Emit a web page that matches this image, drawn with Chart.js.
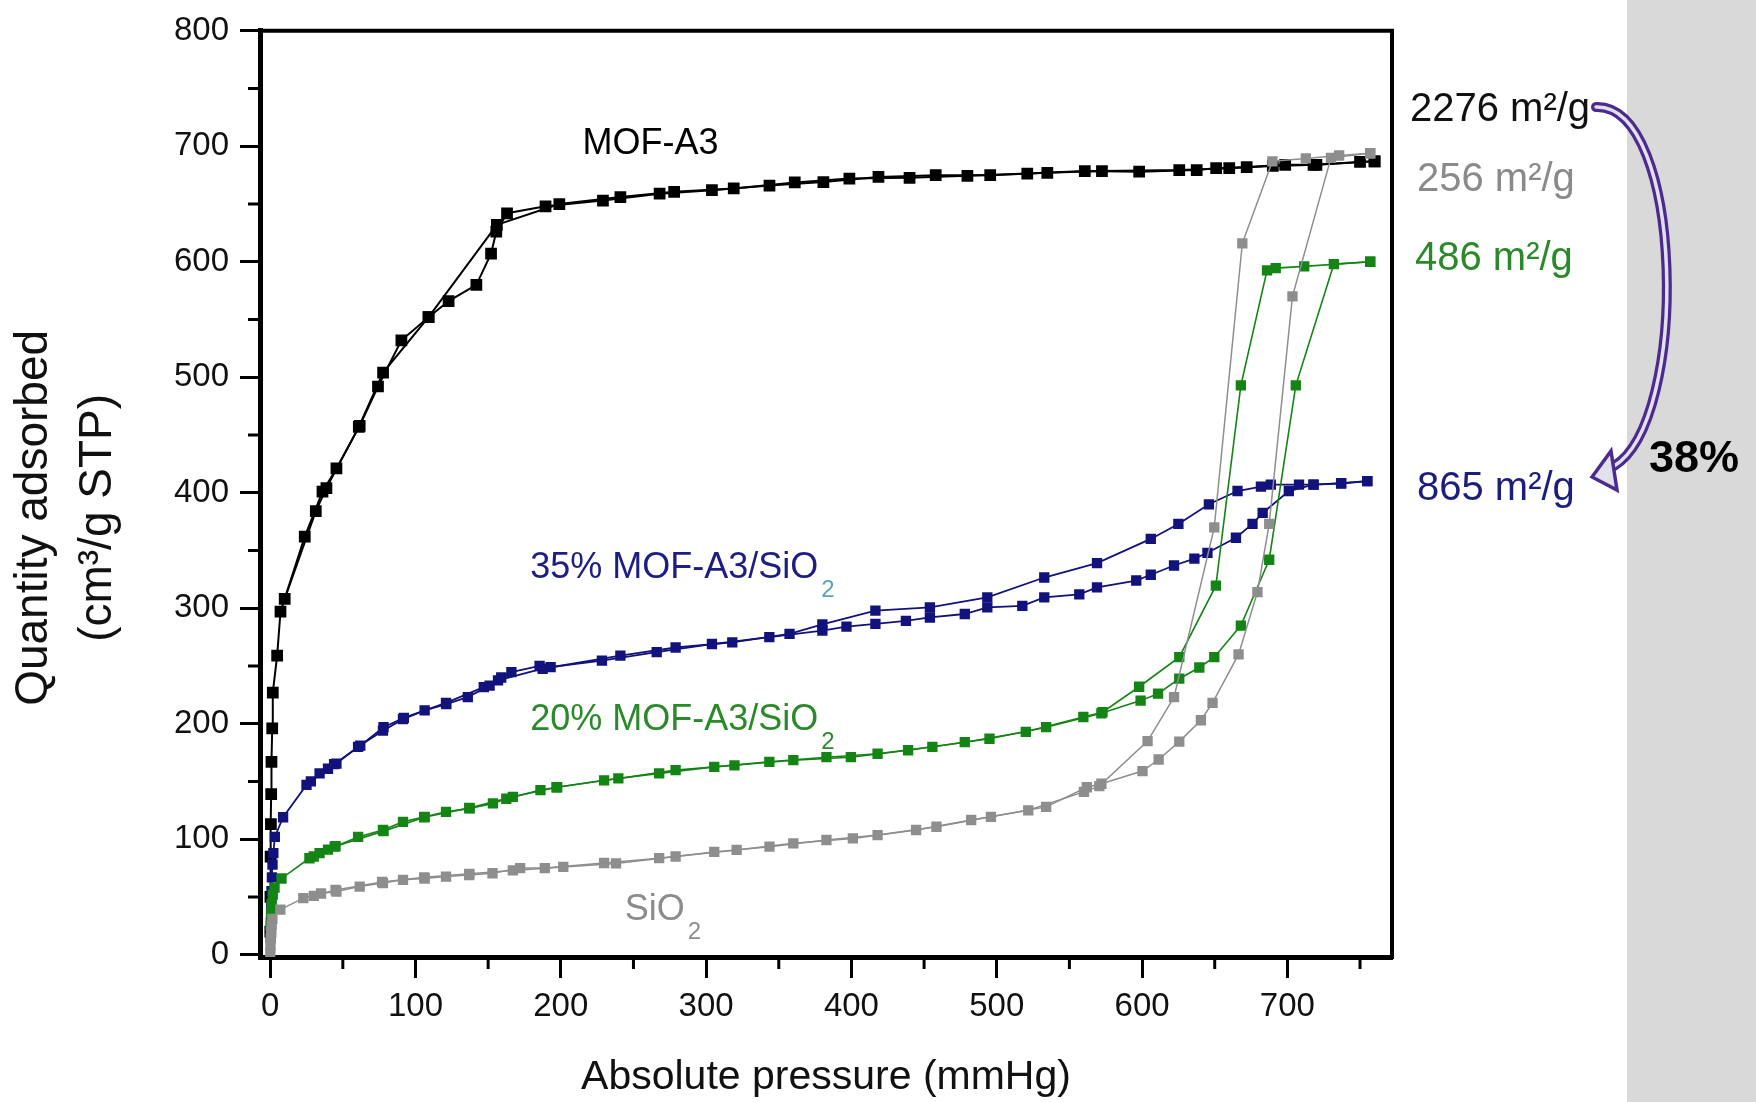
<!DOCTYPE html>
<html lang="en">
<head>
<meta charset="UTF-8">
<title>N2 isotherms - MOF-A3 / SiO2</title>
<script src="https://cdn.jsdelivr.net/npm/chart.js"></script>
<style>
  html, body { margin: 0; padding: 0; background: #fff; }
  #wrap { width: 1756px; height: 1102px; }
</style>
</head>
<body>
<div id="wrap"><canvas id="iso" width="1756" height="1102"></canvas></div>
<script>
// absolute pressure (mmHg) and quantity adsorbed (cm3/g STP)
// MOF-A3
const mofAdsP = [0.1, 0.2, 0.3, 0.5, 0.7, 0.9, 1.4, 1.8, 4.8, 7.1, 23.8, 36, 45.6, 61.6, 74.2, 90.3, 109, 122.8, 141.9, 152, 155.6, 163, 189.5, 229, 268, 304, 343.6, 380.7, 418.6, 458, 495.5, 534.8, 572.4, 625.6, 660, 690, 720, 760];
const mofAdsQ = [20, 50, 85, 113, 139, 167, 196, 227, 259, 297, 362, 401, 421, 458, 492, 532, 552, 566, 580, 607, 626, 642, 648, 653, 659, 662, 666, 669, 673.5, 675, 675, 677, 678.5, 679.4, 681, 683, 684, 687];
const mofDesP = [760, 750, 718, 698.5, 672, 651, 637.6, 598, 560.6, 521, 479.8, 440, 398.6, 361, 319, 278, 241, 199, 156, 109, 77.7, 61, 38.7, 31.4, 10];
const mofDesQ = [687, 686.5, 684, 684, 682, 681, 679.4, 678, 678.5, 676.4, 674.4, 672.7, 672, 668.7, 663.5, 660.6, 656, 650, 632, 552, 504, 457, 404, 384, 308];

// 35% MOF-A3/SiO2
const m35AdsP = [0.3, 0.5, 0.7, 0.9, 1.2, 1.6, 2.2, 3.2, 8.9, 25, 34, 39.8, 45.6, 60.5, 77.6, 91.4, 106.3, 121.2, 136, 151, 159, 166, 185.4, 193, 228.3, 266, 304, 343.5, 380, 396.6, 416.5, 437.5, 454, 478, 493.5, 517.6, 532.7, 556.8, 569, 596, 606, 622, 636, 645, 664.6, 676, 683, 701, 718, 737, 755];
const m35AdsQ = [15, 28, 42, 55, 67, 78, 88, 102, 119, 147, 157, 161, 165.5, 180, 194, 204, 211.6, 217, 223, 233, 240, 244.6, 250, 249, 254.7, 262, 269, 275, 280.6, 284, 286.5, 289, 292, 295, 300.7, 302, 309.4, 312, 318, 324, 329, 337, 343, 348, 361, 373, 382.5, 401.5, 407, 408, 410];
const m35DesP = [755, 737, 718, 708, 688.6, 681.8, 665.7, 646, 625, 606, 569, 532.7, 493.5, 454, 416.5, 380, 357.4, 318, 279, 241, 187.5, 156.8, 147, 121, 92, 78, 62, 44, 28];
const m35DesQ = [410, 408.4, 407, 407, 407, 405.3, 401.5, 390, 373, 360, 339, 326.6, 309.4, 300.7, 298, 286, 277.8, 270.5, 266, 259, 247.6, 237.5, 231.7, 218, 205, 197, 181, 165, 150];

// 20% MOF-A3/SiO2
const m20AdsP = [0.3, 0.6, 1, 1.8, 3, 7.8, 27, 34, 39.8, 44.4, 60.5, 77.6, 91.4, 106.3, 121, 137.3, 153.3, 162.5, 186, 197.5, 229.8, 267.7, 305.6, 343.5, 382.8, 418, 455.7, 495, 534, 572, 599, 611, 625.6, 639.4, 649.7, 668, 687.5, 705.8, 732, 757];
const m20AdsQ = [25, 35, 44, 52, 58, 66, 83.5, 88, 91, 93.5, 102, 108, 115, 119.4, 123.7, 126.7, 131, 135, 142.5, 145, 151, 157, 162.6, 167, 171, 174, 180, 187, 197, 209, 220, 226, 239, 248.7, 257.6, 285, 342, 493, 598, 600];
const m20DesP = [757, 711.6, 692, 686, 668, 650.8, 625.6, 598, 572.8, 559.6, 520, 478, 439, 399.6, 360, 319.5, 279, 239.6, 197, 167, 137, 106, 78, 45, 30];
const m20DesQ = [600, 596, 594.5, 592.6, 493, 319.5, 257.6, 232, 210, 205.8, 193, 184, 177, 171, 168.4, 164, 159.8, 152.6, 145, 136.7, 127, 119, 107, 94, 85];

// SiO2
const sioAdsP = [0.1, 0.2, 0.4, 0.6, 1, 1.5, 7, 22.8, 35, 45.6, 61.6, 77.6, 91.4, 106.3, 121, 137, 153, 172, 189, 229.8, 267.7, 305.6, 343.6, 382.8, 418, 458.5, 496, 534, 562, 572, 600.3, 611.4, 625.6, 640.5, 648.5, 666.4, 679.4, 687.5, 703.5, 730, 757];
const sioAdsQ = [2, 8, 14, 20, 26, 31, 39, 49, 53, 54.7, 59, 62, 64.8, 66, 67.6, 69, 70.5, 75, 75, 79.4, 83.6, 89, 93.5, 99.3, 103.6, 110.8, 119.4, 128, 145, 148, 159, 169, 184.5, 203, 218, 260, 314, 373, 570, 690, 694];
const sioDesP = [757, 735.6, 712.7, 689.7, 669, 649.7, 622, 603.8, 570.6, 560, 521.7, 482.4, 444.5, 401, 360, 321, 279, 238, 201.7, 167, 137, 106, 77, 45, 30];
const sioDesQ = [694, 692, 689.5, 687, 616, 370, 223, 185, 146, 141, 125, 116.6, 108, 100.7, 96.4, 90.7, 85, 79, 76, 73, 70, 67, 63, 56, 51];

const xTickVals = [0, 100, 200, 300, 400, 500, 600, 700];
const yTickVals = [0, 100, 200, 300, 400, 500, 600, 700, 800];
const xMinorVals = [50, 150, 250, 350, 450, 550, 650, 750];
const yMinorVals = [50, 150, 250, 350, 450, 550, 650, 750];

const xTitle = 'Absolute pressure (mmHg)';
const yTitle = ['Quantity adsorbed', '(cm³/g STP)'];
const curveNames = ['MOF-A3', '35% MOF-A3/SiO', '20% MOF-A3/SiO', 'SiO'];
const areaNames = ['2276 m²/g', '256 m²/g', '486 m²/g', '865 m²/g'];
const dropText = '38%';

const FONT = "'Liberation Sans', Arial, Helvetica, sans-serif";
const BLACK = '#000000', NAVY = '#12127c', GREEN = '#148414', GREY = '#8e8e8e';

const pairs = (p, q) => p.map((v, i) => ({ x: v, y: q[i] }));

function series(label, p, q, color, lw, r) {
    return {
        label: label,
        data: pairs(p, q),
        showLine: true,
        borderColor: color,
        backgroundColor: color,
        borderWidth: lw,
        pointStyle: 'rect',
        pointRadius: r,
        pointHoverRadius: r,
        pointBorderWidth: 0,
        tension: 0
    };
}

// extra drawing: background panel, frame, minor ticks, labels, arrow
const decor = {
    id: 'decor',
    beforeDraw(chart) {
        const ctx = chart.ctx;
        ctx.save();
        ctx.fillStyle = '#ffffff';
        ctx.fillRect(0, 0, chart.width, chart.height);
        ctx.fillStyle = '#d9d9d9';
        ctx.fillRect(1627, 0, chart.width - 1627, chart.height);
        ctx.restore();
    },
    afterDraw(chart) {
        const ctx = chart.ctx;
        const a = chart.chartArea;
        const xs = chart.scales.x, ys = chart.scales.y;
        ctx.save();

        // top and right frame
        ctx.strokeStyle = '#000';
        ctx.lineWidth = 4;
        ctx.beginPath();
        ctx.moveTo(a.left, a.top);
        ctx.lineTo(a.right, a.top);
        ctx.lineTo(a.right, a.bottom + 2);
        ctx.stroke();

        // minor ticks
        ctx.lineWidth = 3;
        ctx.beginPath();
        xMinorVals.forEach(v => {
            const px = xs.getPixelForValue(v);
            ctx.moveTo(px, a.bottom);
            ctx.lineTo(px, a.bottom + 12);
        });
        yMinorVals.forEach(v => {
            const py = ys.getPixelForValue(v);
            ctx.moveTo(a.left, py);
            ctx.lineTo(a.left - 12, py);
        });
        ctx.stroke();

        // y axis title (two lines, rotated)
        ctx.fillStyle = '#111';
        ctx.font = '46px ' + FONT;
        ctx.textAlign = 'center';
        ctx.textBaseline = 'middle';
        const cy = (a.top + a.bottom) / 2 + 24;
        [34, 98].forEach((cx, i) => {
            ctx.save();
            ctx.translate(cx, cy);
            ctx.rotate(-Math.PI / 2);
            ctx.fillText(yTitle[i], 0, 0);
            ctx.restore();
        });

        // curve labels inside the plot (data coordinates, alphabetic baseline)
        ctx.textAlign = 'left';
        ctx.textBaseline = 'alphabetic';
        const inPlot = [
            { t: curveNames[0], x: 215, y: 693, c: BLACK, sub: null },
            { t: curveNames[1], x: 179, y: 326.5, c: '#1d1d84', sub: '#5aa2b6' },
            { t: curveNames[2], x: 179, y: 194.5, c: '#2a8a2a', sub: '#2a8a2a' },
            { t: curveNames[3], x: 244, y: 30, c: '#8c8c8c', sub: '#8c8c8c' }
        ];
        inPlot.forEach(l => {
            const px = xs.getPixelForValue(l.x), py = ys.getPixelForValue(l.y);
            ctx.font = '36px ' + FONT;
            ctx.fillStyle = l.c;
            ctx.fillText(l.t, px, py);
            if (l.sub) {
                const w = ctx.measureText(l.t).width;
                ctx.font = '24px ' + FONT;
                ctx.fillStyle = l.sub;
                ctx.fillText('2', px + w + 3, py + 19);
            }
        });

        // surface areas to the right of the plot
        ctx.font = '40px ' + FONT;
        const side = [
            { t: areaNames[0], x: 1410, y: 121, c: '#111111' },
            { t: areaNames[1], x: 1417, y: 191, c: '#8a8a8a' },
            { t: areaNames[2], x: 1415, y: 270, c: '#2a8a2a' },
            { t: areaNames[3], x: 1417, y: 500, c: '#1d1d7e' }
        ];
        side.forEach(l => {
            ctx.fillStyle = l.c;
            ctx.fillText(l.t, l.x, l.y);
        });

        ctx.font = 'bold 45px ' + FONT;
        ctx.fillStyle = '#000';
        ctx.fillText(dropText, 1649, 472);

        // curved hollow arrow
        ctx.lineCap = 'round';
        ctx.beginPath();
        ctx.moveTo(1596, 107);
        ctx.bezierCurveTo(1684, 104, 1690, 420, 1614, 466);
        ctx.strokeStyle = '#4d2b8e';
        ctx.lineWidth = 10;
        ctx.stroke();
        ctx.strokeStyle = '#e2e0ea';
        ctx.lineWidth = 3.5;
        ctx.stroke();
        ctx.beginPath();
        ctx.moveTo(1592, 477);
        ctx.lineTo(1611, 451);
        ctx.lineTo(1617, 490);
        ctx.closePath();
        ctx.fillStyle = '#e2e0ea';
        ctx.fill();
        ctx.strokeStyle = '#4d2b8e';
        ctx.lineWidth = 3.5;
        ctx.lineJoin = 'miter';
        ctx.stroke();

        ctx.restore();
    }
};

const ctx = document.getElementById('iso').getContext('2d');
const chart = new Chart(ctx, {
    type: 'scatter',
    data: {
        datasets: [
            series('SiO2 ads', sioAdsP, sioAdsQ, GREY, 1.5, 7.3),
            series('SiO2 des', sioDesP, sioDesQ, GREY, 1.5, 7.3),
            series('20% ads', m20AdsP, m20AdsQ, GREEN, 1.6, 7.3),
            series('20% des', m20DesP, m20DesQ, GREEN, 1.6, 7.3),
            series('35% ads', m35AdsP, m35AdsQ, NAVY, 1.8, 7.3),
            series('35% des', m35DesP, m35DesQ, NAVY, 1.8, 7.3),
            series('MOF-A3 ads', mofAdsP, mofAdsQ, BLACK, 2, 8.3),
            series('MOF-A3 des', mofDesP, mofDesQ, BLACK, 2, 8.3)
        ]
    },
    options: {
        responsive: false,
        animation: false,
        devicePixelRatio: 1,
        layout: { padding: { top: 28, right: 364, left: 0, bottom: 0 } },
        plugins: {
            legend: { display: false },
            tooltip: { enabled: false }
        },
        scales: {
            x: {
                type: 'linear',
                min: -7,
                max: 772,
                afterBuildTicks: s => { s.ticks = xTickVals.map(v => ({ value: v })); },
                afterFit: s => { s.height = 145; },
                grid: { drawOnChartArea: false, drawTicks: true, tickLength: 21, tickWidth: 3, tickColor: '#000' },
                border: { display: true, width: 5, color: '#000' },
                ticks: { color: '#111', font: { family: FONT, size: 33 }, padding: 9, maxRotation: 0, autoSkip: false },
                title: { display: true, text: xTitle, color: '#111', font: { family: FONT, size: 41 }, padding: 0 }
            },
            y: {
                type: 'linear',
                min: -2,
                max: 800,
                afterBuildTicks: s => { s.ticks = yTickVals.map(v => ({ value: v })); },
                afterFit: s => { s.width = 260; },
                grid: { drawOnChartArea: false, drawTicks: true, tickLength: 20, tickWidth: 3, tickColor: '#000' },
                border: { display: true, width: 5, color: '#000' },
                ticks: { color: '#111', font: { family: FONT, size: 33 }, padding: 11, autoSkip: false }
            }
        }
    },
    plugins: [decor]
});
</script>
</body>
</html>
